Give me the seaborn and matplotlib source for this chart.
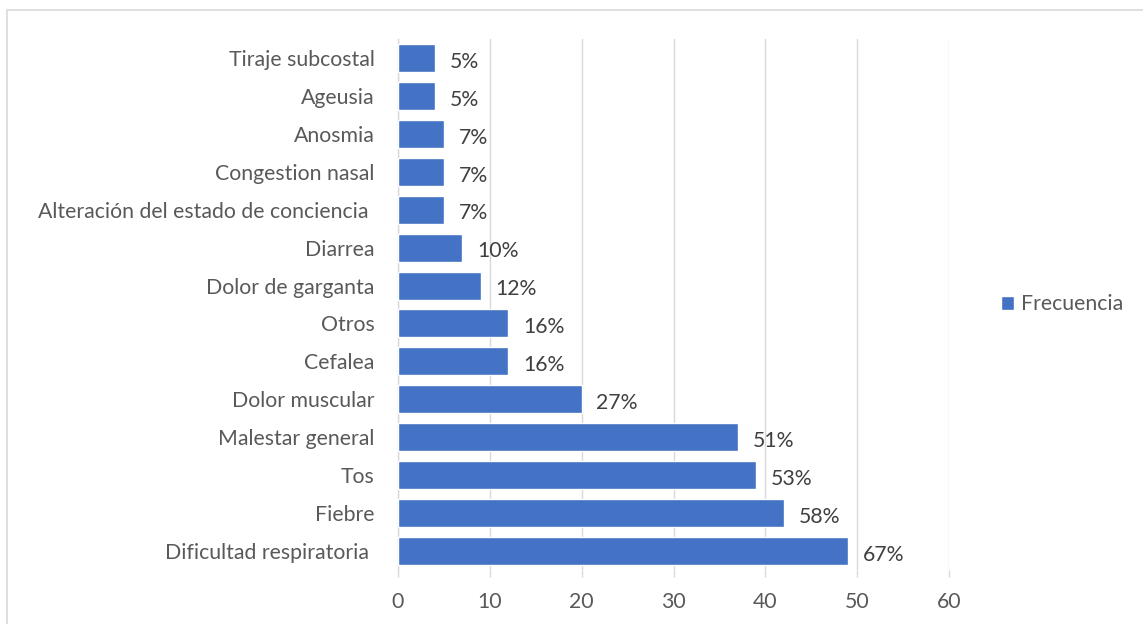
import matplotlib
matplotlib.use("Agg")
import matplotlib.pyplot as plt
import seaborn as sns
import pandas as pd
from matplotlib.patches import Rectangle

categories = ["Tiraje subcostal", "Ageusia", "Anosmia", "Congestion nasal",
              "Alteración del estado de conciencia ", "Diarrea", "Dolor de garganta",
              "Otros", "Cefalea", "Dolor muscular", "Malestar general", "Tos",
              "Fiebre", "Dificultad respiratoria "]
values = [4, 4, 5, 5, 5, 7, 9, 12, 12, 20, 37, 39, 42, 49]
pct_labels = ["5%", "5%", "7%", "7%", "7%", "10%", "12%", "16%", "16%",
              "27%", "51%", "53%", "58%", "67%"]
ticks = [0, 10, 20, 30, 40, 50, 60]

sns.set_theme(style="white")
plt.rcParams['font.family'] = ['Lato', 'DejaVu Sans']
text_color = "#595959"
bar_color = "#4472C4"
fs = 15.3

df = pd.DataFrame({"cat": categories, "val": values, "series": "Frecuencia"})

fig = plt.figure(figsize=(11.43, 6.24), dpi=100)
ax = fig.add_axes([398/1143, 1-570/624, (949-398)/1143, (570-39)/624])

sns.barplot(data=df, x="val", y="cat", hue="series", orient="h",
            palette=[bar_color], saturation=1, width=0.74, ax=ax, zorder=3)

for p, lab in zip(ax.patches, pct_labels):
    w = p.get_width()
    y = p.get_y() + p.get_height() / 2
    ax.text(w + 1.6, y + 0.1, lab, va="center", ha="left",
            fontsize=fs, color="#404040", zorder=4)

ax.set_xlim(0, 60)
ax.set_xticks(ticks)
ax.set_xticklabels([str(t) for t in ticks], fontsize=fs, color=text_color)
ax.tick_params(axis="y", labelsize=fs, labelcolor=text_color, length=0, pad=17)
ax.tick_params(axis="x", length=5, color="#D9D9D9", width=1, pad=11, bottom=True)
ax.xaxis.grid(True, color="#D9D9D9", linewidth=1, zorder=0)
ax.set_xlabel("")
ax.set_ylabel("")
for s in ["top", "right", "bottom"]:
    ax.spines[s].set_visible(False)
ax.spines["left"].set_color("#D9D9D9")
ax.spines["left"].set_linewidth(1)

leg = ax.legend(loc="center left", bbox_to_anchor=(1.06, 0.5), frameon=False,
                fontsize=fs, handlelength=0.6, handleheight=0.6, handletextpad=0.35)
for t in leg.get_texts():
    t.set_color(text_color)

fig.patches.append(Rectangle((7/1143, -0.1), 1.2, 1-10/624 + 0.1, transform=fig.transFigure,
                             fill=False, edgecolor="#D9D9D9", linewidth=1.2, figure=fig))

fig.savefig("out.png", dpi=100)
